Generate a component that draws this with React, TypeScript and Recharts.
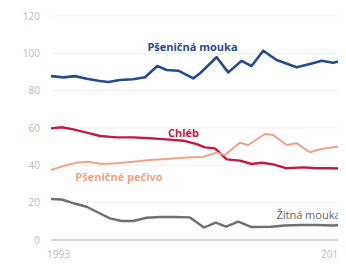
import {CartesianGrid, Line, LineChart, ReferenceDot, XAxis, YAxis} from 'recharts'

// Pšeničná mouka
const wheatFlourYears = [1993, 1993.88, 1994.71, 1995.54, 1996.37, 1997.08, 1997.91, 1998.84, 1999.69, 2000.57, 2001.23, 2002.06, 2003.13, 2003.61, 2004.79, 2005.62, 2006.57, 2007.28, 2008.11, 2009.06, 2010.49, 2011.43, 2012.27, 2013.09, 2014]
const wheatFlour = [87.8, 87.1, 87.8, 86.4, 85.3, 84.6, 85.7, 86.1, 87.2, 93.2, 91.1, 90.7, 86.6, 89.3, 97.9, 89.8, 96.0, 93.2, 101.4, 96.4, 92.5, 94.3, 96.0, 95.0, 96.4]

// Chléb
const breadYears = [1993, 1993.76, 1994.59, 1995.54, 1996.49, 1997.68, 1998.86, 2000.05, 2001.23, 2002.42, 2003.37, 2003.96, 2004.67, 2005.51, 2006.45, 2007.28, 2008.0, 2008.82, 2009.78, 2010.96, 2011.91, 2012.86, 2014]
const bread = [59.8, 60.4, 59.3, 57.5, 55.7, 55.0, 55.0, 54.5, 53.9, 53.2, 51.4, 49.6, 49.1, 43.2, 42.5, 40.7, 41.4, 40.5, 38.4, 38.9, 38.4, 38.4, 38.2]

// Pšeničné pečivo
const pastryYears = [1993, 1993.88, 1994.83, 1995.65, 1996.61, 1997.68, 1998.86, 2000.05, 2001.23, 2002.42, 2003.84, 2004.79, 2005.38, 2006.45, 2007.04, 2008.23, 2008.82, 2009.78, 2010.49, 2011.43, 2012.15, 2013.09, 2014]
const pastry = [37.5, 39.6, 41.4, 41.9, 40.7, 41.1, 41.9, 42.8, 43.4, 44.1, 44.6, 46.8, 45.5, 52.1, 50.9, 56.8, 56.2, 50.9, 51.8, 47.0, 48.6, 49.7, 50.3]

// Žitná mouka
const ryeFlourYears = [1993, 1993.76, 1994.59, 1995.54, 1996.49, 1997.2, 1998.03, 1998.86, 1999.81, 2000.76, 2001.7, 2002.89, 2003.89, 2004.73, 2005.46, 2006.33, 2007.23, 2008.66, 2009.65, 2010.72, 2011.91, 2013.09, 2014]
const ryeFlour = [22.0, 21.7, 19.7, 17.8, 14.2, 11.6, 10.2, 10.2, 11.9, 12.3, 12.3, 12.1, 6.7, 9.3, 7.2, 9.8, 7.0, 7.1, 7.8, 8.0, 8.0, 7.8, 8.0]

const yTicks = [0, 20, 40, 60, 80, 100, 120]
const xTicks = [1993, 2013]

const toRows = (years: number[], values: number[]) =>
    years.map((year, i) => ({year, value: values[i]}))

const series = [
    {name: 'Pšeničná mouka', rows: toRows(wheatFlourYears, wheatFlour), color: '#284a8a', width: 2.6},
    {name: 'Chléb', rows: toRows(breadYears, bread), color: '#c31a43', width: 2.4},
    {name: 'Pšeničné pečivo', rows: toRows(pastryYears, pastry), color: '#eba48a', width: 2},
    {name: 'Žitná mouka', rows: toRows(ryeFlourYears, ryeFlour), color: '#6f6f6f', width: 2.4},
]

const labels = [
    {text: 'Pšeničná mouka', year: 2003.07, value: 103.4, color: '#284a8a', weight: 700},
    {text: 'Chléb', year: 2002.43, value: 57.3, color: '#c31a43', weight: 700},
    {text: 'Pšeničné pečivo', year: 1997.84, value: 33.7, color: '#eba48a', weight: 700},
    {text: 'Žitná mouka', year: 2011.33, value: 13.4, color: '#666666', weight: 400},
]

const FONT = '"Open Sans", sans-serif'

// first label starts at its tick, the last one sits a bit left of it (cut by the edge as in the source)
const XTick = ({x, y, payload}: any) => (
    <text x={payload.value === 1993 ? x - 4 : x - 9} y={y} dy="0.71em" textAnchor="start"
          fill="#bbbbbb" fontSize={10} fontFamily={FONT}>
        {payload.value}
    </text>
)

export default function App() {
    return (
        <div style={{width: 338, height: 272, overflow: 'hidden'}}>
            <LineChart width={338} height={272} margin={{top: 8, right: 0, bottom: 10, left: 0}}>
                <CartesianGrid vertical={false} stroke="#f0f0f0"/>
                <XAxis
                    type="number"
                    dataKey="year"
                    domain={[1993, 2014]}
                    ticks={xTicks}
                    tick={<XTick/>}
                    tickLine={false}
                    axisLine={{stroke: '#cccccc', strokeWidth: 1.5}}
                    tickMargin={5}
                    height={30}
                    allowDuplicatedCategory={false}
                />
                <YAxis
                    type="number"
                    domain={[0, 120]}
                    ticks={yTicks}
                    width={43}
                    axisLine={false}
                    tickLine={false}
                    tickMargin={5}
                    tick={{fill: '#bbbbbb', fontSize: 10, fontFamily: FONT}}
                />
                {series.map(s => (
                    <Line
                        key={s.name}
                        data={s.rows}
                        dataKey="value"
                        name={s.name}
                        type="linear"
                        stroke={s.color}
                        strokeWidth={s.width}
                        strokeLinejoin="round"
                        dot={false}
                        activeDot={false}
                        isAnimationActive={false}
                    />
                ))}
                {labels.map(l => (
                    <ReferenceDot
                        key={l.text}
                        x={l.year}
                        y={l.value}
                        r={0}
                        stroke="none"
                        fill="none"
                        label={{
                            value: l.text,
                            position: 'center',
                            fill: l.color,
                            fontSize: 11,
                            fontWeight: l.weight,
                            fontFamily: FONT,
                        }}
                    />
                ))}
            </LineChart>
        </div>
    )
}
